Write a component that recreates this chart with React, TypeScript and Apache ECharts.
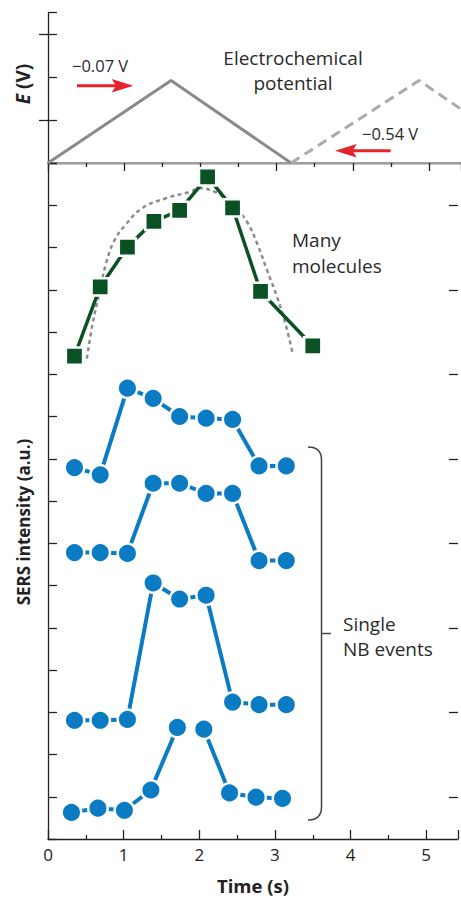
import React, { useEffect, useRef } from "react";
import * as echarts from "echarts";

// Electrochemical potential (arbitrary units, top panel)
const potT = [0, 1.615, 3.19];
const potV = [0, 1.92, 0];
const pot2T = [3.19, 4.87, 6.45];
const pot2V = [0, 1.92, 0];

// Many molecules (squares)
const manyT = [0.35, 0.69, 1.05, 1.4, 1.74, 2.11, 2.44, 2.81, 3.5];
const manyV = [11.43, 13.07, 14.01, 14.62, 14.88, 15.67, 14.94, 12.96, 11.67];

// Gray dotted fit curve
const fitT = [0.514, 0.589, 0.677, 0.764, 0.873, 1.026, 1.243, 1.55, 1.898, 1.986, 2.247, 2.466, 2.64, 2.77, 2.9, 3.03, 3.14, 3.23];
const fitV = [11.37, 12.19, 12.9, 13.6, 14.15, 14.54, 14.93, 15.16, 15.33, 15.41, 15.28, 14.97, 14.58, 14.07, 13.44, 12.82, 12.19, 11.53];

// Single NB events (circles)
const eventT = [0.35, 0.69, 1.05, 1.39, 1.74, 2.09, 2.44, 2.79, 3.15];
const event1 = [8.79, 8.62, 10.67, 10.43, 10.0, 9.96, 9.93, 8.83, 8.83];
const event2 = [6.78, 6.78, 6.76, 8.42, 8.42, 8.18, 8.18, 6.59, 6.59];
const event3 = [2.81, 2.81, 2.83, 6.06, 5.68, 5.77, 3.24, 3.18, 3.18];
const event4T = [0.31, 0.66, 1.01, 1.36, 1.71, 2.06, 2.4, 2.75, 3.1];
const event4 = [0.63, 0.73, 0.68, 1.16, 2.64, 2.6, 1.09, 0.99, 0.96];

const xTickLabels = ["0", "1", "2", "3", "4", "5"];

const FONT = "'Open Sans', 'Noto Sans', sans-serif";
const BLUE = "#0b7bc4";
const GREEN = "#0a5224";
const RED = "#e5232b";
const AXIS = "#222";

const zip = (t: number[], v: number[]) => t.map((x, i) => [x, v[i]]);

const bracketPath =
  "M308,447 Q321.5,447 321.5,460 L321.5,807 Q321.5,820 308,820 M321.5,633.5 L331,633.5";

export default function App() {
  const ref = useRef<HTMLDivElement>(null);
  useEffect(() => {
    echarts.graphic.registerShape("bracket", echarts.graphic.extendPath(bracketPath, {}));
    const chart = echarts.init(ref.current!, null, { renderer: "svg" });

    const blueSeries = (data: number[][]) => ({
      type: "line",
      xAxisIndex: 2,
      yAxisIndex: 2,
      data,
      symbol: "circle",
      symbolSize: 19.5,
      showSymbol: true,
      lineStyle: { color: BLUE, width: 4 },
      itemStyle: { color: BLUE, borderColor: "#fff", borderWidth: 2.5 },
      z: 3,
    });

    const option: any = {
      animation: false,
      backgroundColor: "#fff",
      textStyle: { fontFamily: FONT },
      grid: [
        { left: 48, top: 12.5, width: 414, height: 150.5 },
        { left: 48, top: 163, width: 414, height: 682 },
      ],
      xAxis: [
        {
          gridIndex: 0,
          type: "value",
          position: "top",
          min: 0,
          max: 5.42,
          interval: 1,
          axisLine: { lineStyle: { color: AXIS, width: 1.3 } },
          axisTick: { inside: true, length: 8, lineStyle: { color: AXIS, width: 1.3 } },
          minorTick: { show: true, splitNumber: 2, length: 4, lineStyle: { color: AXIS, width: 1.3 } },
          axisLabel: { show: false },
          splitLine: { show: false },
        },
        {
          gridIndex: 0,
          type: "value",
          position: "bottom",
          min: 0,
          max: 5.42,
          axisLine: { lineStyle: { color: "#9e9e9e", width: 2 } },
          axisTick: { show: false },
          axisLabel: { show: false },
          splitLine: { show: false },
        },
        {
          gridIndex: 1,
          type: "value",
          position: "bottom",
          min: 0,
          max: 5.42,
          interval: 1,
          name: "Time (s)",
          nameLocation: "middle",
          nameGap: 37,
          nameTextStyle: { fontFamily: FONT, fontSize: 18.5, fontWeight: "bold", color: "#222" },
          axisLine: { lineStyle: { color: AXIS, width: 1.3 } },
          axisTick: { inside: true, length: 9, lineStyle: { color: AXIS, width: 1.3 } },
          minorTick: { show: true, splitNumber: 2, length: 4, lineStyle: { color: AXIS, width: 1.3 } },
          axisLabel: {
            margin: 7,
            fontSize: 17,
            color: "#222",
            fontFamily: FONT,
            formatter: (v: number) => (Number.isInteger(v) ? xTickLabels[v] ?? "" : ""),
          },
          splitLine: { show: false },
        },
      ],
      yAxis: [
        {
          gridIndex: 0,
          type: "value",
          position: "left",
          min: 0,
          max: 3.5,
          interval: 1,
          axisLine: { show: true, lineStyle: { color: AXIS, width: 1.3 } },
          axisTick: { show: true, inside: true, length: 9, lineStyle: { color: AXIS, width: 1.3 } },
          axisLabel: { show: false },
          splitLine: { show: false },
        },
        {
          gridIndex: 0,
          type: "value",
          position: "right",
          min: 0,
          max: 3.5,
          axisLine: { show: false },
          axisTick: { show: true, inside: true, length: 9, customValues: [1, 3], lineStyle: { color: AXIS, width: 1.3 } },
          axisLabel: { show: false },
          splitLine: { show: false },
        },
        {
          gridIndex: 1,
          type: "value",
          position: "left",
          min: 0,
          max: 16,
          interval: 1,
          axisLine: { show: true, lineStyle: { color: AXIS, width: 1.3 } },
          axisTick: { show: true, inside: true, length: 9, lineStyle: { color: AXIS, width: 1.3 } },
          axisLabel: { show: false },
          splitLine: { show: false },
        },
        {
          gridIndex: 1,
          type: "value",
          position: "right",
          min: 0,
          max: 16,
          axisLine: { show: false },
          axisTick: {
            show: true,
            inside: true,
            length: 9,
            customValues: [1, 3, 5, 7, 9, 11, 13, 15],
            lineStyle: { color: AXIS, width: 1.3 },
          },
          axisLabel: { show: false },
          splitLine: { show: false },
        },
      ],
      series: [
        {
          type: "line",
          xAxisIndex: 0,
          yAxisIndex: 0,
          data: zip(potT, potV),
          showSymbol: false,
          symbol: "none",
          lineStyle: { color: "#8a8a8a", width: 3 },
          z: 3,
        },
        {
          type: "line",
          xAxisIndex: 0,
          yAxisIndex: 0,
          data: zip(pot2T, pot2V),
          showSymbol: false,
          symbol: "none",
          clip: true,
          lineStyle: { color: "#ababab", width: 3, type: [10, 6] },
          z: 3,
        },
        {
          type: "line",
          xAxisIndex: 2,
          yAxisIndex: 2,
          data: zip(fitT, fitV),
          smooth: 0.4,
          showSymbol: false,
          symbol: "none",
          lineStyle: { color: "#8c8c8c", width: 2.5, type: [4, 3.5] },
          z: 2,
        },
        {
          type: "line",
          xAxisIndex: 2,
          yAxisIndex: 2,
          data: zip(manyT, manyV),
          symbol: "rect",
          symbolSize: 17.2,
          lineStyle: { color: GREEN, width: 3.5 },
          itemStyle: { color: GREEN, borderColor: "#fff", borderWidth: 2.5 },
          z: 3,
        },
        blueSeries(zip(eventT, event1)),
        blueSeries(zip(eventT, event2)),
        blueSeries(zip(eventT, event3)),
        blueSeries(zip(event4T, event4).slice(0, 5)),
        blueSeries(zip(event4T, event4).slice(5)),
      ],
      graphic: [
        {
          type: "text",
          x: 23,
          y: 84,
          rotation: Math.PI / 2,
          style: {
            text: "{i|E} (V)",
            rich: {
              i: { fontStyle: "italic", fontWeight: "bold", fontSize: 19, fontFamily: FONT, fill: "#222" },
            },
            fontWeight: "bold",
            fontSize: 19,
            fontFamily: FONT,
            fill: "#222",
            align: "center",
            verticalAlign: "middle",
          },
        },
        {
          type: "text",
          x: 23,
          y: 522,
          rotation: Math.PI / 2,
          style: {
            text: "SERS intensity (a.u.)",
            fontWeight: "bold",
            fontSize: 17,
            fontFamily: FONT,
            fill: "#222",
            align: "center",
            verticalAlign: "middle",
          },
        },
        {
          type: "text",
          x: 293,
          y: 70,
          style: {
            text: "Electrochemical\npotential",
            fontSize: 19,
            lineHeight: 25,
            fontFamily: FONT,
            fill: "#2a2a2a",
            align: "center",
            verticalAlign: "middle",
          },
        },
        {
          type: "text",
          x: 72,
          y: 65,
          style: {
            text: "\u22120.07 V",
            fontSize: 16.5,
            fontFamily: FONT,
            fill: "#2a2a2a",
            align: "left",
            verticalAlign: "middle",
          },
        },
        {
          type: "text",
          x: 362,
          y: 133,
          style: {
            text: "\u22120.54 V",
            fontSize: 16.5,
            fontFamily: FONT,
            fill: "#2a2a2a",
            align: "left",
            verticalAlign: "middle",
          },
        },
        {
          type: "line",
          shape: { x1: 77, y1: 85.7, x2: 117, y2: 85.7 },
          style: { stroke: RED, lineWidth: 3 },
        },
        {
          type: "polygon",
          shape: { points: [[133.3, 85.7], [111.7, 79], [116, 85.7], [111.7, 92.4]] },
          style: { fill: RED },
        },
        {
          type: "line",
          shape: { x1: 352, y1: 150.7, x2: 390.7, y2: 150.7 },
          style: { stroke: RED, lineWidth: 3 },
        },
        {
          type: "polygon",
          shape: { points: [[335, 150.7], [356.7, 144], [352.5, 150.7], [356.7, 157.4]] },
          style: { fill: RED },
        },
        {
          type: "text",
          x: 292,
          y: 253,
          style: {
            text: "Many\nmolecules",
            fontSize: 19,
            lineHeight: 26,
            fontFamily: FONT,
            fill: "#2a2a2a",
            align: "left",
            verticalAlign: "middle",
          },
        },
        {
          type: "text",
          x: 343,
          y: 636,
          style: {
            text: "Single\nNB events",
            fontSize: 19,
            lineHeight: 25,
            fontFamily: FONT,
            fill: "#2a2a2a",
            align: "left",
            verticalAlign: "middle",
          },
        },
        {
          type: "bracket",
          x: 0,
          y: 0,
          scaleX: 1,
          scaleY: 1,
          style: { stroke: "#444", lineWidth: 1.5, fill: null },
        },
      ],
    };

    chart.setOption(option);
    return () => chart.dispose();
  }, []);

  return (
    <div
      ref={ref}
      style={{ position: "fixed", left: 0, top: 0, width: 461, height: 900, background: "#fff" }}
    />
  );
}
